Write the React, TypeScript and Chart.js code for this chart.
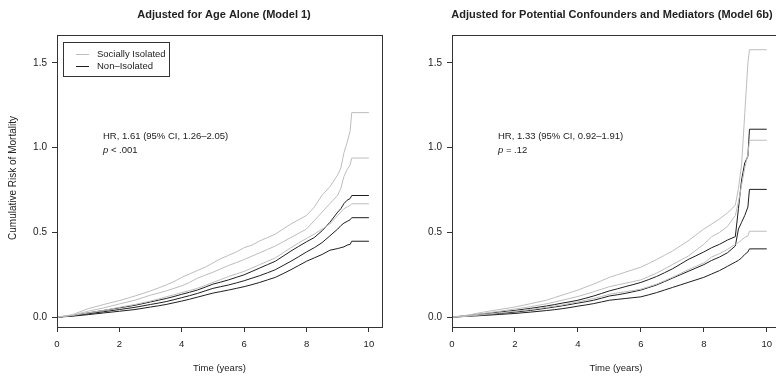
import React, { useEffect, useRef } from "react";
import { Chart, registerables } from "chart.js";
Chart.register(...registerables);

// ---------- data ----------
const TIMES = [0, 0.5, 1, 1.5, 2, 2.5, 3, 3.25, 3.5, 3.75, 4, 4.25, 4.5, 4.75, 5, 5.25, 5.5, 5.75, 6, 6.25, 6.5, 6.75, 7, 7.25, 7.5, 7.75, 8, 8.25, 8.5, 8.75, 9, 9.1, 9.2, 9.3, 9.4, 9.45, 10];

// Left panel: Adjusted for Age Alone (Model 1)
const M1_ISOLATED_UPPER = [0, 0.015, 0.05, 0.075, 0.098, 0.125, 0.155, 0.172, 0.19, 0.21, 0.235, 0.255, 0.275, 0.295, 0.32, 0.345, 0.365, 0.385, 0.41, 0.425, 0.45, 0.47, 0.49, 0.52, 0.55, 0.575, 0.6, 0.65, 0.72, 0.77, 0.84, 0.88, 0.97, 1.03, 1.1, 1.207, 1.207];
const M1_ISOLATED = [0, 0.012, 0.035, 0.055, 0.078, 0.1, 0.13, 0.142, 0.155, 0.17, 0.185, 0.205, 0.23, 0.248, 0.265, 0.285, 0.305, 0.322, 0.34, 0.36, 0.38, 0.4, 0.42, 0.445, 0.47, 0.495, 0.52, 0.57, 0.62, 0.67, 0.72, 0.76, 0.83, 0.87, 0.9, 0.939, 0.939];
const M1_ISOLATED_LOWER = [0, 0.01, 0.025, 0.04, 0.058, 0.075, 0.095, 0.107, 0.12, 0.132, 0.145, 0.157, 0.17, 0.187, 0.205, 0.222, 0.24, 0.255, 0.27, 0.29, 0.31, 0.33, 0.35, 0.38, 0.41, 0.438, 0.465, 0.49, 0.52, 0.55, 0.6, 0.62, 0.64, 0.65, 0.66, 0.669, 0.669];
const M1_NONISOLATED_UPPER = [0, 0.01, 0.025, 0.04, 0.055, 0.07, 0.09, 0.1, 0.11, 0.122, 0.135, 0.147, 0.16, 0.177, 0.195, 0.207, 0.22, 0.235, 0.25, 0.27, 0.29, 0.31, 0.33, 0.36, 0.39, 0.418, 0.445, 0.47, 0.51, 0.56, 0.62, 0.64, 0.67, 0.69, 0.7, 0.718, 0.718];
const M1_NONISOLATED = [0, 0.008, 0.02, 0.032, 0.045, 0.058, 0.075, 0.083, 0.092, 0.103, 0.115, 0.127, 0.14, 0.155, 0.17, 0.18, 0.19, 0.202, 0.215, 0.23, 0.245, 0.262, 0.28, 0.305, 0.33, 0.357, 0.385, 0.41, 0.44, 0.48, 0.52, 0.54, 0.555, 0.565, 0.575, 0.587, 0.587];
const M1_NONISOLATED_LOWER = [0, 0.006, 0.015, 0.025, 0.035, 0.045, 0.06, 0.067, 0.075, 0.085, 0.095, 0.106, 0.118, 0.13, 0.142, 0.151, 0.16, 0.17, 0.18, 0.192, 0.205, 0.22, 0.235, 0.257, 0.28, 0.305, 0.33, 0.35, 0.37, 0.395, 0.405, 0.41, 0.415, 0.425, 0.43, 0.448, 0.448];

// Right panel: Adjusted for Potential Confounders and Mediators (Model 6b)
const M6B_ISOLATED_UPPER = [0, 0.012, 0.03, 0.045, 0.06, 0.08, 0.1, 0.115, 0.13, 0.145, 0.16, 0.178, 0.195, 0.215, 0.235, 0.25, 0.265, 0.28, 0.295, 0.317, 0.34, 0.365, 0.39, 0.42, 0.45, 0.485, 0.52, 0.55, 0.58, 0.615, 0.66, 0.76, 0.9, 1.2, 1.5, 1.578, 1.578];
const M6B_ISOLATED = [0, 0.008, 0.022, 0.035, 0.048, 0.062, 0.079, 0.089, 0.1, 0.111, 0.122, 0.136, 0.15, 0.165, 0.18, 0.19, 0.2, 0.21, 0.22, 0.24, 0.26, 0.285, 0.31, 0.335, 0.36, 0.395, 0.43, 0.475, 0.5, 0.535, 0.6, 0.68, 0.78, 0.88, 0.96, 1.044, 1.044];
const M6B_ISOLATED_LOWER = [0, 0.006, 0.015, 0.025, 0.035, 0.045, 0.058, 0.065, 0.072, 0.081, 0.09, 0.1, 0.11, 0.122, 0.135, 0.143, 0.15, 0.157, 0.165, 0.18, 0.195, 0.215, 0.235, 0.257, 0.28, 0.3, 0.32, 0.355, 0.375, 0.4, 0.43, 0.44, 0.455, 0.47, 0.48, 0.507, 0.507];
const M6B_NONISOLATED_UPPER = [0, 0.01, 0.02, 0.03, 0.04, 0.052, 0.066, 0.074, 0.083, 0.091, 0.1, 0.112, 0.125, 0.14, 0.155, 0.167, 0.18, 0.192, 0.205, 0.222, 0.24, 0.262, 0.285, 0.312, 0.34, 0.362, 0.385, 0.41, 0.43, 0.455, 0.475, 0.64, 0.81, 0.91, 0.95, 1.109, 1.109];
const M6B_NONISOLATED = [0, 0.007, 0.015, 0.022, 0.03, 0.04, 0.053, 0.06, 0.067, 0.075, 0.083, 0.091, 0.1, 0.112, 0.125, 0.132, 0.14, 0.15, 0.16, 0.175, 0.19, 0.21, 0.23, 0.25, 0.27, 0.29, 0.31, 0.335, 0.355, 0.38, 0.42, 0.52, 0.56, 0.6, 0.65, 0.754, 0.754];
const M6B_NONISOLATED_LOWER = [0, 0.005, 0.01, 0.016, 0.022, 0.03, 0.039, 0.044, 0.05, 0.057, 0.065, 0.072, 0.08, 0.09, 0.1, 0.105, 0.11, 0.115, 0.12, 0.132, 0.145, 0.16, 0.175, 0.19, 0.205, 0.22, 0.235, 0.255, 0.275, 0.3, 0.325, 0.335, 0.35, 0.37, 0.385, 0.403, 0.403];

const X_TICKS = [0, 2, 4, 6, 8, 10];
const Y_TICKS = [0, 0.5, 1.0, 1.5];
const LEGEND_LABELS = ["Socially Isolated", "Non\u2013Isolated"];
const TITLE_M1 = "Adjusted for Age Alone (Model 1)";
const TITLE_M6B = "Adjusted for Potential Confounders and Mediators (Model 6b)";
const HR_M1 = "HR, 1.61 (95% CI, 1.26\u20132.05)";
const HR_M6B = "HR, 1.33 (95% CI, 0.92\u20131.91)";
const P_M1 = " < .001";
const P_M6B = " = .12";

// ---------- style ----------
const GREY = "#bdbdbd";
const BLACK = "#1e1e1e";
const TEXT = "#222222";
const FONT = "'Liberation Sans', Arial, Helvetica, sans-serif";
const X_MIN = 0;
const X_MAX = 10.42;
const Y_MIN = -0.058;
const Y_MAX = 1.665;

type PanelProps = {
  left: number;
  width: number;
  yAxisWidth: number;
  padRight: number;
  title: string;
  hr: string;
  pRest: string;
  showYTitle: boolean;
  showLegend: boolean;
  series: number[][];
};

function buildDatasets(series: number[][]) {
  const colors = [GREY, GREY, GREY, BLACK, BLACK, BLACK];
  return series.map((vals, k) => ({
    data: TIMES.map((t, i) => ({ x: t, y: vals[i] })),
    borderColor: colors[k],
    backgroundColor: colors[k],
    borderWidth: 1,
    pointRadius: 0,
    tension: 0,
    stepped: false,
    fill: false,
  }));
}

function decorPlugin(p: PanelProps) {
  return {
    id: "decor",
    afterDraw(chart: any) {
      const { ctx, chartArea: a } = chart;
      ctx.save();
      ctx.strokeStyle = "#333";
      ctx.lineWidth = 1;
      ctx.strokeRect(Math.round(a.left) + 0.5, Math.round(a.top) + 0.5, Math.round(a.right - a.left), Math.round(a.bottom - a.top));

      ctx.fillStyle = TEXT;
      ctx.textBaseline = "middle";
      ctx.font = `bold 11px ${FONT}`;
      ctx.textAlign = "center";
      ctx.fillText(p.title, 224, 15);

      ctx.font = `9.5px ${FONT}`;
      ctx.fillText("Time (years)", (a.left + a.right) / 2, 368);

      if (p.showYTitle) {
        ctx.save();
        ctx.translate(13, 178);
        ctx.rotate(-Math.PI / 2);
        ctx.font = `10px ${FONT}`;
        ctx.textAlign = "center";
        ctx.fillText("Cumulative Risk of Mortality", 0, 0);
        ctx.restore();
      }

      const ax = a.left + 46;
      ctx.textAlign = "left";
      ctx.font = `9.5px ${FONT}`;
      ctx.fillText(p.hr, ax, 136);
      ctx.font = `italic 9.5px ${FONT}`;
      ctx.fillText("p", ax, 150.5);
      const pw = ctx.measureText("p").width;
      ctx.font = `9.5px ${FONT}`;
      ctx.fillText(p.pRest, ax + pw, 150.5);

      if (p.showLegend) {
        ctx.strokeStyle = "#333";
        ctx.strokeRect(63.5, 42.5, 106, 34);
        const rows = [
          { y: 54, c: GREY, t: LEGEND_LABELS[0] },
          { y: 66, c: BLACK, t: LEGEND_LABELS[1] },
        ];
        for (const r of rows) {
          ctx.strokeStyle = r.c;
          ctx.beginPath();
          ctx.moveTo(76, r.y + 0.5);
          ctx.lineTo(89, r.y + 0.5);
          ctx.stroke();
          ctx.fillStyle = TEXT;
          ctx.fillText(r.t, 97, r.y + 0.5);
        }
      }
      ctx.restore();
    },
  };
}

function Panel(p: PanelProps) {
  const ref = useRef<HTMLCanvasElement>(null);
  useEffect(() => {
    const canvas = ref.current!;
    const chart = new Chart(canvas, {
      type: "line",
      data: { datasets: buildDatasets(p.series) as any },
      options: {
        responsive: false,
        maintainAspectRatio: false,
        devicePixelRatio: 1,
        animation: false,
        parsing: false,
        layout: { padding: { left: 0, top: 35, right: p.padRight, bottom: 0 } },
        plugins: { legend: { display: false }, tooltip: { enabled: false }, title: { display: false } },
        scales: {
          x: {
            type: "linear",
            min: X_MIN,
            max: X_MAX,
            afterBuildTicks: (s: any) => {
              s.ticks = X_TICKS.map((v) => ({ value: v }));
            },
            afterFit: (s: any) => {
              s.height = 53;
            },
            ticks: {
              color: TEXT,
              font: { family: FONT, size: 9.5 },
              padding: 7,
              maxRotation: 0,
              autoSkip: false,
              callback: (v: any) => String(v),
            },
            grid: { display: true, drawOnChartArea: false, drawTicks: true, tickLength: 5, color: "#333", lineWidth: 1 },
            border: { display: false },
          },
          y: {
            type: "linear",
            min: Y_MIN,
            max: Y_MAX,
            afterBuildTicks: (s: any) => {
              s.ticks = Y_TICKS.map((v) => ({ value: v }));
            },
            afterFit: (s: any) => {
              s.width = p.yAxisWidth;
            },
            ticks: {
              color: TEXT,
              font: { family: FONT, size: 10 },
              padding: 5,
              autoSkip: false,
              callback: (v: any) => Number(v).toFixed(1),
            },
            grid: { display: true, drawOnChartArea: false, drawTicks: true, tickLength: 5, color: "#333", lineWidth: 1 },
            border: { display: false },
          },
        },
      } as any,
      plugins: [decorPlugin(p)],
    });
    return () => chart.destroy();
  }, []);
  return (
    <canvas
      ref={ref}
      width={p.width}
      height={380}
      style={{ position: "absolute", left: p.left, top: 0, width: p.width, height: 380 }}
    />
  );
}

export default function App() {
  return (
    <div style={{ position: "fixed", left: 0, top: 0, width: 776, height: 380, overflow: "hidden", background: "#fff" }}>
      <Panel
        left={0}
        width={388}
        yAxisWidth={57}
        padRight={6}
        title={TITLE_M1}
        hr={HR_M1}
        pRest={P_M1}
        showYTitle={true}
        showLegend={true}
        series={[M1_ISOLATED_UPPER, M1_ISOLATED, M1_ISOLATED_LOWER, M1_NONISOLATED_UPPER, M1_NONISOLATED, M1_NONISOLATED_LOWER]}
      />
      <Panel
        left={388}
        width={400}
        yAxisWidth={64}
        padRight={8}
        title={TITLE_M6B}
        hr={HR_M6B}
        pRest={P_M6B}
        showYTitle={false}
        showLegend={false}
        series={[M6B_ISOLATED_UPPER, M6B_ISOLATED, M6B_ISOLATED_LOWER, M6B_NONISOLATED_UPPER, M6B_NONISOLATED, M6B_NONISOLATED_LOWER]}
      />
    </div>
  );
}
